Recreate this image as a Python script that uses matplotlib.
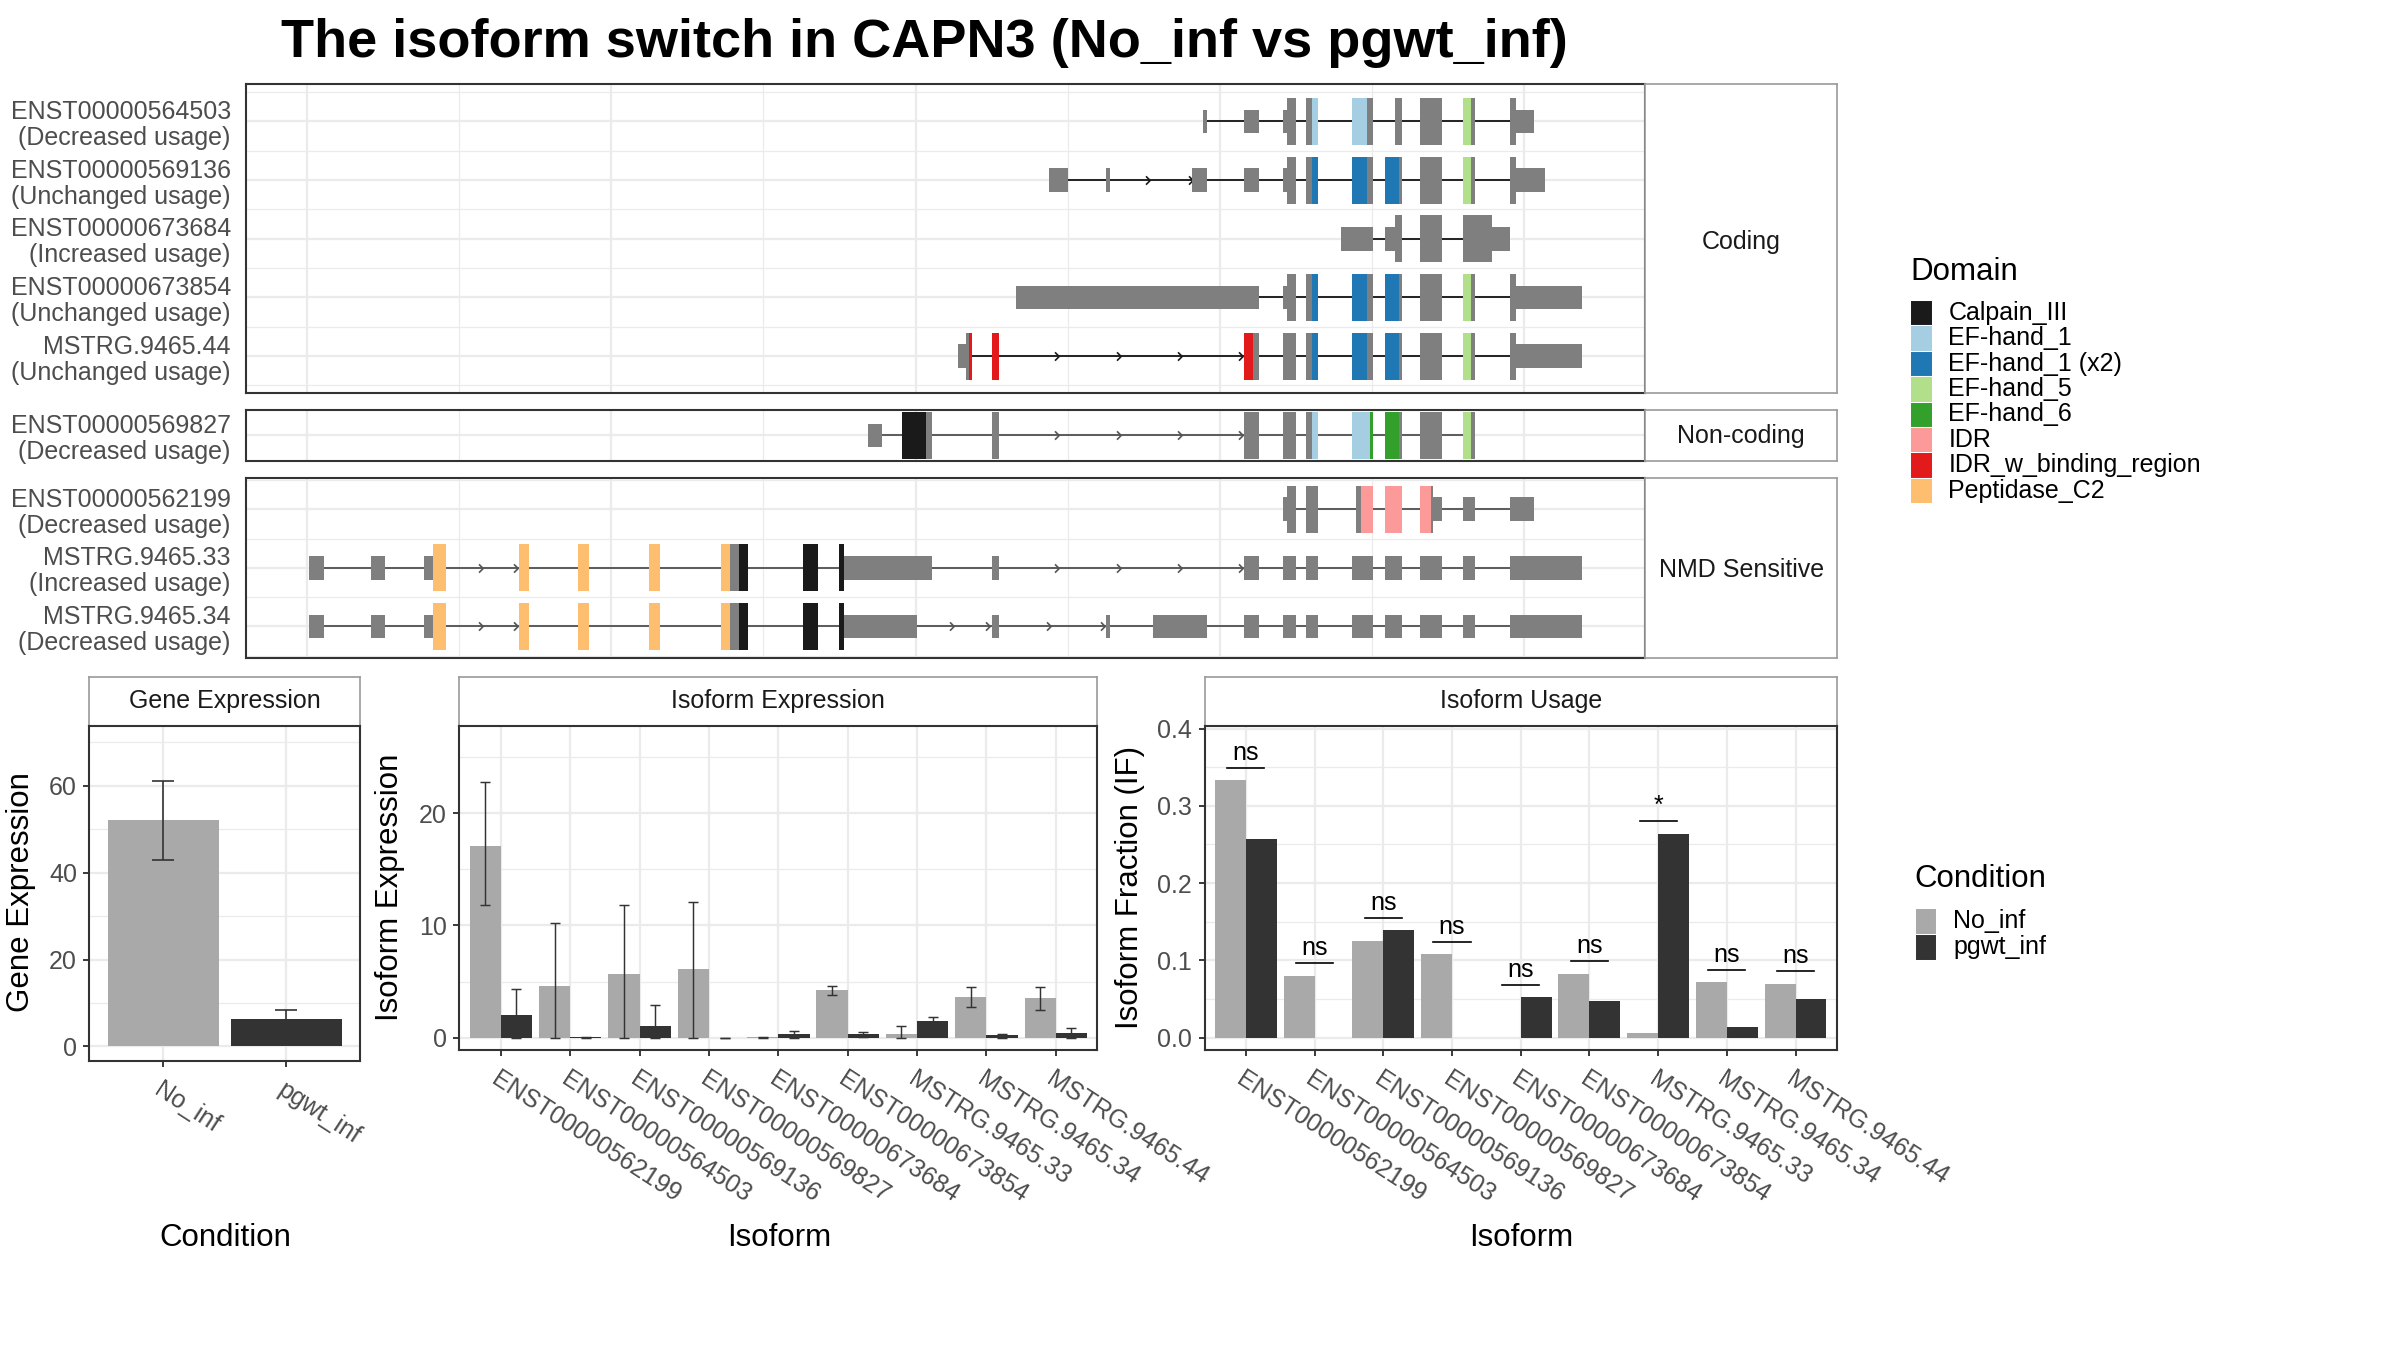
import matplotlib
matplotlib.use("Agg")
import matplotlib.pyplot as plt
from matplotlib.patches import Rectangle
from matplotlib.path import Path

plt.rcParams['font.family'] = ['Liberation Sans', 'DejaVu Sans']

# ---------------- transcript structures (relative genomic position) ----------------
coding_ids = ['ENST00000564503', 'ENST00000569136', 'ENST00000673684', 'ENST00000673854', 'MSTRG.9465.44']
coding_usage = ['Decreased usage', 'Unchanged usage', 'Increased usage', 'Unchanged usage', 'Unchanged usage']
noncoding_ids = ['ENST00000569827']
noncoding_usage = ['Decreased usage']
nmd_ids = ['ENST00000562199', 'MSTRG.9465.33', 'MSTRG.9465.34']
nmd_usage = ['Decreased usage', 'Increased usage', 'Decreased usage']

# (start, end, part) ; part = 'utr', 'cds' or a domain name
exons = {
    'ENST00000564503': [(589, 592, 'utr'), (616, 626, 'utr'), (642, 644, 'utr'), (644, 650, 'cds'),
                        (657, 661, 'cds'), (661, 665, 'EF-hand_1'), (687, 697, 'EF-hand_1'), (697, 701, 'cds'),
                        (715, 720, 'cds'), (732, 746, 'cds'), (760, 765, 'EF-hand_5'), (765, 768, 'cds'),
                        (791, 795, 'cds'), (795, 807, 'utr')],
    'ENST00000569136': [(488, 500, 'utr'), (525, 528, 'utr'), (582, 592, 'utr'), (616, 626, 'utr'),
                        (642, 644, 'utr'), (644, 650, 'cds'), (657, 661, 'cds'), (661, 665, 'EF-hand_1 (x2)'),
                        (687, 697, 'EF-hand_1 (x2)'), (697, 701, 'cds'), (709, 718, 'EF-hand_1 (x2)'),
                        (718, 720, 'cds'), (732, 746, 'cds'), (760, 765, 'EF-hand_5'), (765, 768, 'cds'),
                        (791, 795, 'cds'), (795, 814, 'utr')],
    'ENST00000673684': [(680, 701, 'utr'), (709, 715, 'utr'), (715, 720, 'cds'), (732, 746, 'cds'),
                        (760, 779, 'cds'), (779, 791, 'utr')],
    'ENST00000673854': [(466, 626, 'utr'), (642, 644, 'utr'), (644, 650, 'cds'), (657, 661, 'cds'),
                        (661, 665, 'EF-hand_1 (x2)'), (687, 697, 'EF-hand_1 (x2)'), (697, 701, 'cds'),
                        (709, 718, 'EF-hand_1 (x2)'), (718, 720, 'cds'), (732, 746, 'cds'),
                        (760, 765, 'EF-hand_5'), (765, 768, 'cds'), (791, 795, 'cds'), (795, 838, 'utr')],
    'MSTRG.9465.44': [(428, 433, 'utr'), (433, 435, 'cds'), (435, 437, 'IDR_w_binding_region'),
                      (450, 455, 'IDR_w_binding_region'), (616, 622, 'IDR_w_binding_region'), (622, 626, 'cds'),
                      (642, 650, 'cds'), (657, 661, 'cds'), (661, 665, 'EF-hand_1 (x2)'),
                      (687, 697, 'EF-hand_1 (x2)'), (697, 701, 'cds'), (709, 718, 'EF-hand_1 (x2)'),
                      (718, 720, 'cds'), (732, 746, 'cds'), (760, 765, 'EF-hand_5'), (765, 768, 'cds'),
                      (791, 795, 'cds'), (795, 838, 'utr')],
    'ENST00000569827': [(369, 378, 'utr'), (391, 407, 'Calpain_III'), (407, 411, 'cds'), (450, 455, 'cds'),
                        (616, 626, 'cds'), (642, 650, 'cds'), (657, 661, 'cds'), (661, 665, 'EF-hand_1'),
                        (687, 699, 'EF-hand_1'), (699, 701, 'EF-hand_6'), (709, 718, 'EF-hand_6'),
                        (718, 720, 'cds'), (732, 746, 'cds'), (760, 765, 'EF-hand_5'), (765, 768, 'cds')],
    'ENST00000562199': [(642, 644, 'utr'), (644, 650, 'cds'), (657, 665, 'cds'), (690, 693, 'cds'),
                        (693, 701, 'IDR'), (709, 720, 'IDR'), (732, 739, 'IDR'), (739, 740, 'cds'),
                        (740, 746, 'utr'), (760, 768, 'utr'), (791, 807, 'utr')],
    'MSTRG.9465.33': [(1, 11, 'utr'), (42, 51, 'utr'), (77, 83, 'utr'), (83, 91, 'Peptidase_C2'),
                      (139, 146, 'Peptidase_C2'), (178, 185, 'Peptidase_C2'), (225, 232, 'Peptidase_C2'),
                      (272, 278, 'Peptidase_C2'), (278, 284, 'cds'), (284, 290, 'Calpain_III'),
                      (326, 336, 'Calpain_III'), (350, 353, 'Calpain_III'), (353, 411, 'utr'), (450, 455, 'utr'),
                      (616, 626, 'utr'), (642, 650, 'utr'), (657, 665, 'utr'), (687, 701, 'utr'),
                      (709, 720, 'utr'), (732, 746, 'utr'), (760, 768, 'utr'), (791, 838, 'utr')],
    'MSTRG.9465.34': [(1, 11, 'utr'), (42, 51, 'utr'), (77, 83, 'utr'), (83, 91, 'Peptidase_C2'),
                      (139, 146, 'Peptidase_C2'), (178, 185, 'Peptidase_C2'), (225, 232, 'Peptidase_C2'),
                      (272, 278, 'Peptidase_C2'), (278, 284, 'cds'), (284, 290, 'Calpain_III'),
                      (326, 336, 'Calpain_III'), (350, 353, 'Calpain_III'), (353, 401, 'utr'), (450, 455, 'utr'),
                      (525, 528, 'utr'), (556, 592, 'utr'), (616, 626, 'utr'), (642, 650, 'utr'),
                      (657, 665, 'utr'), (687, 701, 'utr'), (709, 720, 'utr'), (732, 746, 'utr'),
                      (760, 768, 'utr'), (791, 838, 'utr')],
}

# intron direction arrows
arrows = {
    'ENST00000569136': [553, 581],
    'MSTRG.9465.44': [493, 534, 574, 614],
    'ENST00000569827': [493, 534, 574, 614],
    'MSTRG.9465.33': [114, 137, 493, 534, 574, 614],
    'MSTRG.9465.34': [114, 137, 424, 448, 488, 523],
}

domain_names = ['Calpain_III', 'EF-hand_1', 'EF-hand_1 (x2)', 'EF-hand_5', 'EF-hand_6',
                'IDR', 'IDR_w_binding_region', 'Peptidase_C2']
domain_colors = ['#1A1A1A', '#A6CEE3', '#1F78B4', '#B2DF8A', '#33A02C', '#FB9A99', '#E31A1C', '#FDBF6F']

# ---------------- expression data ----------------
conditions = ['No_inf', 'pgwt_inf']
cond_colors = ['#A9A9A9', '#333333']
gene_mean = [52.0, 6.4]
gene_lo = [42.8, 4.85]
gene_hi = [61.0, 8.45]

isoforms = ['ENST00000562199', 'ENST00000564503', 'ENST00000569136', 'ENST00000569827', 'ENST00000673684',
            'ENST00000673854', 'MSTRG.9465.33', 'MSTRG.9465.34', 'MSTRG.9465.44']
iso_no = [17.1, 4.6, 5.7, 6.1, 0.05, 4.2, 0.35, 3.6, 3.5]
iso_no_lo = [11.8, 0.0, 0.0, 0.0, 0.0, 3.8, 0.0, 2.7, 2.5]
iso_no_hi = [22.8, 10.2, 11.8, 12.1, 0.1, 4.6, 1.0, 4.5, 4.5]
iso_pg = [2.0, 0.03, 1.0, 0.0, 0.3, 0.3, 1.5, 0.2, 0.4]
iso_pg_lo = [0.0, 0.0, 0.0, 0.0, 0.0, 0.1, 1.2, 0.0, 0.0]
iso_pg_hi = [4.3, 0.05, 2.9, 0.0, 0.6, 0.5, 1.8, 0.35, 0.9]

if_no = [0.333, 0.080, 0.125, 0.108, 0.0, 0.083, 0.006, 0.072, 0.070]
if_pg = [0.257, 0.0, 0.139, 0.0, 0.052, 0.048, 0.264, 0.014, 0.050]
if_sig = ['ns', 'ns', 'ns', 'ns', 'ns', 'ns', '*', 'ns', 'ns']

# ---------------- layout helpers (reference grid 1568 x 882) ----------------
W, H = 1568.0, 882.0
GRID = '#EBEBEB'
BORDER = '#333333'
TXT = '#4D4D4D'


def rect(x0, y0, x1, y1):
    return [x0 / W, 1 - y1 / H, (x1 - x0) / W, (y1 - y0) / H]


def strip(fig, r, text, dy=0.0):
    s = fig.add_axes(r)
    s.set_xticks([])
    s.set_yticks([])
    for sp in s.spines.values():
        sp.set_color('#9A9A9A')
        sp.set_linewidth(0.8)
    s.text(0.5, 0.5 + dy, text, ha='center', va='center', fontsize=12, color='#1A1A1A', transform=s.transAxes)
    return s


def panel_style(ax):
    for sp in ax.spines.values():
        sp.set_color(BORDER)
        sp.set_linewidth(1.0)
    ax.set_axisbelow(True)


fig = plt.figure(figsize=(16, 9), dpi=150)
fig.patch.set_facecolor('white')

part_color = dict(zip(domain_names, domain_colors))
part_color['utr'] = '#7F7F7F'
part_color['cds'] = '#7F7F7F'
chevron = Path([(-0.6, 1.0), (0.4, 0.0), (-0.6, -1.0)], [Path.MOVETO, Path.LINETO, Path.LINETO])

groups = [
    ('Coding', coding_ids, coding_usage, (55, 257), (5.635, 0.365), '#1A1A1A'),
    ('Non-coding', noncoding_ids, noncoding_usage, (268, 301), (1.43, 0.57), '#555555'),
    ('NMD Sensitive', nmd_ids, nmd_usage, (312, 430), (3.54, 0.46), '#555555'),
]

for gname, ids, usage, (ytop, ybot), ylim, line_col in groups:
    ax = fig.add_axes(rect(161, ytop, 1075, ybot))
    panel_style(ax)
    ax.set_xlim(-40, 880)
    ax.set_ylim(*ylim)
    ax.set_xticks(range(0, 801, 200))
    ax.set_xticks(range(100, 800, 200), minor=True)
    rows = list(range(1, len(ids) + 1))
    ax.set_yticks(rows)
    ax.set_yticks([r + 0.5 for r in range(0, len(ids) + 1) if ylim[1] < r + 0.5 < ylim[0]], minor=True)
    ax.set_yticklabels([f'{n}\n({u})' for n, u in zip(ids, usage)], fontsize=12, color=TXT)
    for t in ax.get_yticklabels():
        t.set_linespacing(1.1)
    ax.set_xticklabels([])
    ax.tick_params(which='both', length=0, pad=7.5)
    ax.grid(which='major', color=GRID, lw=1.1)
    ax.grid(which='minor', color=GRID, lw=0.6)

    for y, name in zip(rows, ids):
        parts = exons[name]
        x0 = min(p[0] for p in parts)
        x1 = max(p[1] for p in parts)
        ax.plot([x0, x1], [y, y], color=line_col, lw=0.9, zorder=2, solid_capstyle='butt')
        for s, e, k in parts:
            h = 0.2 if k == 'utr' else 0.4
            ax.add_patch(Rectangle((s, y - h), e - s, 2 * h, facecolor=part_color[k],
                                   edgecolor='none', zorder=3))
        if name in arrows:
            ax.plot(arrows[name], [y] * len(arrows[name]), ls='none', marker=chevron, markersize=4,
                    markeredgewidth=0.8, markeredgecolor=line_col, fillstyle='none', zorder=2.5)

    strip(fig, rect(1075, ytop, 1200, ybot), gname, dy=-0.01)


# ---------------- bottom bar panels ----------------
def bar_axes(x0, x1, ybot, title, ylim, yt, ymin):
    strip(fig, rect(x0, 442, x1, 474), title)
    ax = fig.add_axes(rect(x0, 474, x1, ybot))
    panel_style(ax)
    ax.set_ylim(*ylim)
    ax.set_yticks(yt)
    ax.set_yticks(ymin, minor=True)
    ax.grid(axis='y', which='major', color=GRID, lw=1.1)
    ax.grid(axis='y', which='minor', color=GRID, lw=0.6)
    ax.grid(axis='x', which='major', color=GRID, lw=1.1)
    ax.tick_params(axis='both', which='major', length=3, width=0.9, color=BORDER,
                   labelsize=12, labelcolor=TXT, pad=3)
    ax.tick_params(axis='x', which='major', pad=5)
    ax.tick_params(which='minor', length=0)
    return ax


def rot_labels(ax, labels):
    ax.set_xticklabels(labels, rotation=-33, ha='left', va='top', rotation_mode='anchor')


# Gene expression
ax = bar_axes(58.4, 235.2, 693, 'Gene Expression', (-3.27, 73.8), [0, 20, 40, 60], [10, 30, 50, 70])
gx = list(range(len(conditions)))
ax.bar(gx, gene_mean, width=0.9, color=cond_colors, zorder=2)
ax.errorbar(gx, gene_mean, yerr=[[m - l for m, l in zip(gene_mean, gene_lo)],
                                 [h - m for m, h in zip(gene_mean, gene_hi)]],
            fmt='none', ecolor=BORDER, elinewidth=0.8, capsize=5.5, capthick=0.8, zorder=3)
ax.set_xlim(-0.6, 1.6)
ax.set_xticks(gx)
rot_labels(ax, conditions)

# Isoform expression
ax = bar_axes(300, 717, 686, 'Isoform Expression', (-1.1, 27.8), [0, 10, 20], [5, 15, 25])
ix = list(range(len(isoforms)))
xn = [i - 0.225 for i in ix]
xp = [i + 0.225 for i in ix]
ax.bar(xn, iso_no, width=0.45, color=cond_colors[0], zorder=2)
ax.bar(xp, iso_pg, width=0.45, color=cond_colors[1], zorder=2)
ax.errorbar(xn, iso_no, yerr=[[m - l for m, l in zip(iso_no, iso_no_lo)],
                              [h - m for m, h in zip(iso_no, iso_no_hi)]],
            fmt='none', ecolor=BORDER, elinewidth=0.7, capsize=2.2, capthick=0.7, zorder=3)
ax.errorbar(xp, iso_pg, yerr=[[m - l for m, l in zip(iso_pg, iso_pg_lo)],
                              [h - m for m, h in zip(iso_pg, iso_pg_hi)]],
            fmt='none', ecolor=BORDER, elinewidth=0.7, capsize=2.2, capthick=0.7, zorder=3)
ax.set_xlim(-0.6, len(isoforms) - 0.4)
ax.set_xticks(ix)
rot_labels(ax, isoforms)

# Isoform usage
ax = bar_axes(787, 1200, 686, 'Isoform Usage', (-0.016, 0.404), [0.0, 0.1, 0.2, 0.3, 0.4],
              [0.05, 0.15, 0.25, 0.35])
ax.set_yticklabels(['0.0', '0.1', '0.2', '0.3', '0.4'])
ax.bar(xn, if_no, width=0.45, color=cond_colors[0], zorder=2)
ax.bar(xp, if_pg, width=0.45, color=cond_colors[1], zorder=2)
for i, lab in enumerate(if_sig):
    top = max(if_no[i], if_pg[i]) + 0.016
    ax.plot([i - 0.27, i + 0.27], [top, top], color='black', lw=0.8, zorder=3)
    ax.text(i, top + 0.004, lab, ha='center', va='bottom', fontsize=12, color='black', zorder=3)
ax.set_xlim(-0.6, len(isoforms) - 0.4)
ax.set_xticks(ix)
rot_labels(ax, isoforms)

# ---------------- overlay: titles, axis titles, legends ----------------
ov = fig.add_axes([0, 0, 1, 1])
ov.set_xlim(0, W)
ov.set_ylim(H, 0)
ov.axis('off')

ov.text(604, 28, 'The isoform switch in CAPN3 (No_inf vs pgwt_inf)', ha='center', va='center',
        fontsize=26, fontweight='bold', color='black')

ov.text(147, 809, 'Condition', ha='center', va='center', fontsize=15)
ov.text(509, 809, 'Isoform', ha='center', va='center', fontsize=15)
ov.text(994, 809, 'Isoform', ha='center', va='center', fontsize=15)
ov.text(14, 583, 'Gene Expression', ha='center', va='center', rotation=90, fontsize=15)
ov.text(255, 580, 'Isoform Expression', ha='center', va='center', rotation=90, fontsize=15)
ov.text(738, 580, 'Isoform Fraction (IF)', ha='center', va='center', rotation=90, fontsize=15)

# Domain legend
ov.text(1248, 178, 'Domain', ha='left', va='center', fontsize=15)
for i, (nm, col) in enumerate(zip(domain_names, domain_colors)):
    y0 = 196 + i * 16.6
    ov.add_patch(Rectangle((1248, y0), 14, 16.6, facecolor=col, edgecolor='white', lw=0.5))
    ov.text(1273, y0 + 8.3, nm, ha='left', va='center', fontsize=12)

# Condition legend
ov.text(1251, 574, 'Condition', ha='left', va='center', fontsize=15)
for i, (nm, col) in enumerate(zip(conditions, cond_colors)):
    y0 = 593 + i * 17
    ov.add_patch(Rectangle((1251, y0), 14, 17, facecolor=col, edgecolor='white', lw=0.5))
    ov.text(1276, y0 + 8.5, nm, ha='left', va='center', fontsize=12)

fig.savefig('out.png', dpi=150, facecolor='white')
